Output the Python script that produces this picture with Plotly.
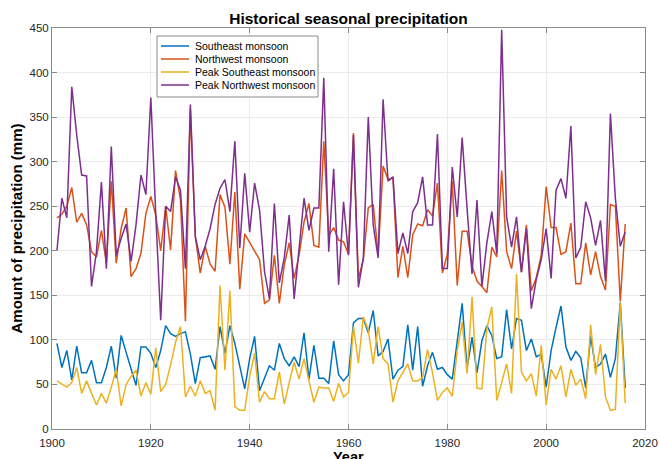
import plotly.graph_objects as go

years = list(range(1901, 2017))

southeast = [96, 69, 88, 55, 93, 63, 63, 77, 52, 52,
             69, 93, 57, 105, 86, 66, 49, 92, 92, 85,
             69, 88, 116, 107, 104, 107, 109, 84, 51, 80,
             81, 82, 67, 115, 85, 116, 96, 71, 45, 79,
             104, 43, 58, 71, 66, 96, 79, 71, 81, 70,
             108, 56, 94, 57, 57, 51, 99, 61, 54, 61,
             119, 124, 124, 108, 133, 82, 87, 101, 56, 66,
             70, 117, 66, 115, 48, 71, 86, 67, 69, 61,
             56, 96, 141, 68, 103, 63, 99, 116, 105, 79,
             81, 134, 90, 124, 122, 88, 101, 81, 84, 47,
             88, 114, 138, 92, 77, 87, 80, 46, 104, 69,
             73, 84, 58, 79, 142, 46]

northwest = [237, 241, 250, 271, 232, 242, 229, 199, 193, 223,
             186, 278, 186, 225, 248, 171, 180, 197, 242, 261,
             240, 200, 250, 201, 290, 257, 121, 359, 216, 175,
             205, 185, 177, 263, 249, 185, 266, 157, 219, 209,
             199, 190, 141, 145, 195, 141, 184, 209, 169, 195,
             232, 253, 206, 204, 323, 217, 226, 212, 210, 196,
             332, 169, 190, 248, 252, 196, 295, 280, 282, 170,
             205, 170, 218, 230, 228, 246, 239, 276, 175, 196,
             278, 161, 222, 222, 183, 166, 160, 153, 204, 193,
             290, 199, 180, 222, 176, 229, 155, 170, 195, 272,
             226, 226, 196, 199, 231, 163, 163, 209, 173, 199,
             171, 156, 252, 250, 143, 230]

peak_southeast = [54, 50, 47, 52, 69, 40, 54, 40, 27, 40,
                  29, 47, 67, 26, 50, 59, 66, 37, 52, 39,
                  91, 42, 50, 72, 97, 115, 36, 48, 37, 54,
                  40, 43, 21, 161, 66, 155, 25, 21, 21, 59,
                  85, 30, 42, 34, 34, 64, 28, 52, 75, 56,
                  79, 54, 30, 47, 46, 46, 31, 51, 36, 41,
                  115, 74, 126, 111, 73, 115, 79, 73, 30, 54,
                  63, 73, 54, 54, 58, 89, 63, 32, 41, 46,
                  37, 88, 120, 62, 148, 46, 45, 113, 137, 32,
                  52, 73, 40, 174, 64, 54, 62, 37, 94, 27,
                  67, 56, 71, 36, 67, 49, 56, 34, 117, 61,
                  95, 36, 21, 22, 141, 29]

peak_northwest = [200, 259, 237, 384, 330, 285, 284, 160, 199, 277,
                  180, 317, 195, 214, 230, 188, 229, 285, 263, 372,
                  240, 122, 250, 244, 283, 268, 180, 364, 216, 190,
                  205, 225, 252, 270, 280, 244, 323, 203, 287, 221,
                  276, 246, 177, 146, 253, 164, 192, 240, 146, 207,
                  259, 223, 248, 248, 394, 199, 292, 162, 255, 195,
                  330, 159, 192, 350, 229, 192, 370, 278, 283, 197,
                  220, 197, 244, 254, 283, 229, 229, 331, 180, 180,
                  294, 238, 327, 247, 174, 257, 160, 209, 244, 197,
                  448, 238, 204, 238, 176, 225, 135, 168, 190, 225,
                  169, 268, 281, 259, 340, 192, 204, 255, 237, 206,
                  234, 166, 354, 259, 205, 221]

series_names = ["Southeast monsoon", "Northwest monsoon",
                "Peak Southeast monsoon", "Peak Northwest monsoon"]
series_values = [southeast, northwest, peak_southeast, peak_northwest]
colors = ["#0072BD", "#D95319", "#EDB120", "#7E2F8E"]

x_ticks = [1900, 1920, 1940, 1960, 1980, 2000, 2020]
y_ticks = [0, 50, 100, 150, 200, 250, 300, 350, 400, 450]

W, H = 660, 459
ML, MR, MT, MB = 52, 15, 28, 30
PW, PH = W - ML - MR, H - MT - MB


def px(x):
    return (x - ML) / PW


def py(y):
    return (H - MB - y) / PH


fig = go.Figure()
for name, vals, col in zip(series_names, series_values, colors):
    fig.add_trace(go.Scatter(x=years, y=vals, mode="lines", name=name,
                             line=dict(color=col, width=1.5), showlegend=False))

font_family = "Liberation Sans, Arial, Helvetica, sans-serif"
frame_col = "#8a8a8a"
axis_common = dict(showline=True, linecolor=frame_col, linewidth=1, mirror="ticks",
                   ticks="inside", ticklen=5, tickcolor=frame_col, automargin=False,
                   showgrid=True, gridcolor="#ebebeb", gridwidth=1, zeroline=False,
                   tickfont=dict(family=font_family, size=11.5, color="#262626"))

# legend box (drawn in paper coordinates)
shapes = [dict(type="rect", xref="paper", yref="paper", layer="above",
               x0=px(157), x1=px(318), y0=py(97), y1=py(36),
               line=dict(color=frame_col, width=1), fillcolor="white")]
annotations = []
row_y = [46, 59, 72, 85]
for name, col, ry in zip(series_names, colors, row_y):
    shapes.append(dict(type="line", xref="paper", yref="paper", layer="above",
                       x0=px(161), x1=px(189), y0=py(ry), y1=py(ry),
                       line=dict(color=col, width=1.5)))
    annotations.append(dict(text=name, xref="paper", yref="paper",
                            x=px(192.5), y=py(ry), xanchor="left", yanchor="middle",
                            showarrow=False,
                            font=dict(family=font_family, size=10.5, color="#000000")))

# x-axis title placed just below the tick labels, as in the reference
annotations.append(dict(text="<b>Year</b>", xref="paper", yref="paper",
                        x=0.5, y=py(447), xanchor="center", yanchor="top",
                        showarrow=False,
                        font=dict(family=font_family, size=14.5, color="#000000")))

fig.update_layout(
    width=W, height=H,
    margin=dict(l=ML, r=MR, t=MT, b=MB),
    paper_bgcolor="white", plot_bgcolor="white",
    font=dict(family=font_family, color="#000000"),
    title=dict(text="<b>Historical seasonal precipitation</b>", x=0.5, xref="paper",
               y=1 - 19 / H, yref="container", yanchor="middle",
               font=dict(size=15.5, color="#000000")),
    xaxis=dict(range=[1900, 2020], tickvals=x_ticks, ticktext=[str(t) for t in x_ticks],
               ticklabelstandoff=3,
               **axis_common),
    yaxis=dict(range=[0, 450], tickvals=y_ticks, ticktext=[str(t) for t in y_ticks],
               title=dict(text="<b>Amount of precipitation (mm)</b>", font=dict(size=15), standoff=3),
               **axis_common),
    shapes=shapes,
    annotations=annotations,
    showlegend=False,
)

fig.write_html("out.html", config={"displayModeBar": False},
               post_script="document.body.style.margin='0px';document.body.style.overflow='hidden';")
